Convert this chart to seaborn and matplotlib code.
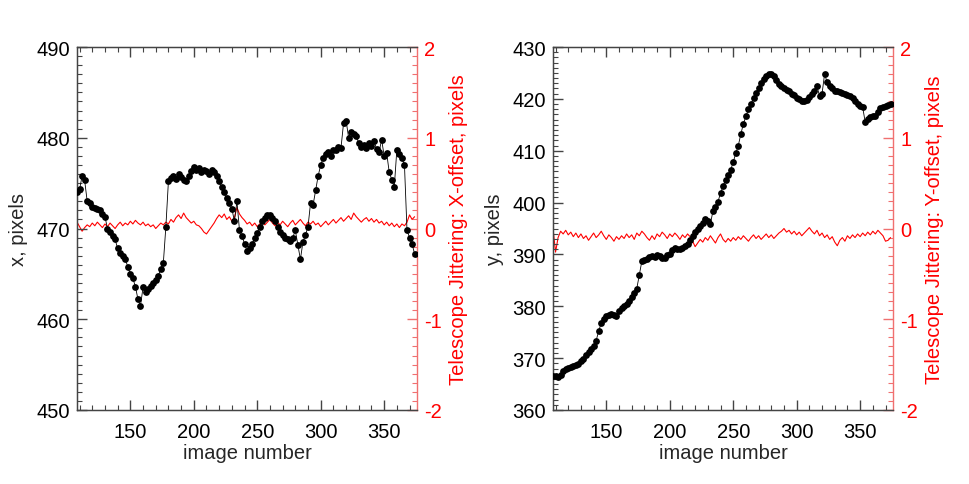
import numpy as np
import pandas as pd
import matplotlib
matplotlib.use('Agg')
import matplotlib.pyplot as plt
from matplotlib.ticker import MultipleLocator
import seaborn as sns

# image numbers (every 2nd image)
images = np.arange(108, 376, 2)

# x position of the target, pixels
x_pos = [474.0, 474.3, 475.8, 475.3, 473.0, 472.8, 472.4, 472.3, 472.1, 472.0,
         471.6, 471.3, 470.0, 469.6, 469.2, 468.8, 467.8, 467.3, 467.0, 466.6,
         465.8, 465.0, 464.5, 463.6, 462.2, 461.5, 463.5, 463.0, 463.3, 463.7,
         464.0, 464.3, 464.8, 465.5, 466.2, 470.2, 475.2, 475.6, 475.8, 475.5,
         476.0, 475.7, 475.4, 475.2, 475.8, 476.3, 476.8, 476.5, 476.7, 476.2,
         476.5, 476.3, 476.0, 476.4, 476.2, 475.8, 475.2, 474.6, 474.0, 473.4,
         472.8, 472.2, 470.8, 473.0, 469.8, 469.2, 468.3, 467.5, 467.8, 468.3,
         468.9, 469.5, 470.2, 470.8, 471.2, 471.5, 471.5, 471.2, 470.8, 470.2,
         469.6, 469.3, 469.0, 468.8, 468.6, 469.0, 469.8, 468.2, 466.6, 468.5,
         469.3, 470.2, 472.8, 472.6, 474.2, 475.8, 477.0, 477.8, 478.2, 478.4,
         478.0, 478.6, 478.7, 479.0, 478.9, 481.6, 481.9, 480.0, 480.6, 480.4,
         480.2, 479.4, 479.0, 479.2, 478.9, 479.4, 479.1, 479.6, 478.8, 478.4,
         479.8, 478.0, 478.3, 476.2, 475.4, 474.6, 478.7, 478.2, 477.8, 477.0,
         469.8, 469.0, 468.3, 467.2]

# y position of the target, pixels
y_pos = [366.6, 366.5, 366.4, 366.8, 367.5, 368.0, 368.1, 368.3, 368.4, 368.7,
         368.9, 369.4, 369.9, 370.6, 371.2, 371.7, 372.3, 373.4, 375.2, 376.8,
         377.6, 378.1, 378.3, 378.5, 378.3, 378.1, 379.0, 379.6, 380.0, 380.4,
         381.0, 381.8, 382.6, 383.4, 386.0, 388.7, 389.0, 389.2, 389.5, 389.7,
         389.6, 389.8, 389.7, 389.4, 389.3, 389.8, 390.1, 390.8, 391.2, 391.0,
         391.0, 391.3, 391.7, 392.0, 392.8, 393.6, 394.3, 394.9, 395.5, 396.1,
         396.8, 396.5, 395.9, 398.3, 399.2, 400.2, 401.8, 403.2, 404.3, 405.3,
         406.3, 407.8, 409.5, 411.0, 413.2, 415.2, 416.6, 418.0, 419.0, 420.1,
         421.1, 422.0, 423.0, 423.8, 424.5, 424.8, 424.8, 424.4, 423.6, 422.8,
         422.4, 422.1, 421.8, 421.6, 421.0, 420.7, 420.2, 419.9, 419.6, 419.5,
         419.8, 420.3, 420.9, 421.5, 422.4, 420.6, 421.0, 424.8, 423.2, 422.5,
         422.0, 421.6, 421.5, 421.3, 421.1, 421.0, 420.8, 420.5, 420.1, 419.6,
         419.0, 418.7, 418.4, 415.5, 416.2, 416.5, 416.6, 416.7, 417.4, 418.3,
         418.5, 418.6, 418.8, 419.0]

# telescope jitter, X offset (pixels)
jit_x = [0.07, 0.02, -0.03, 0.01, 0.04, 0.02, 0.06, 0.03, 0.07, 0.04,
         0.01, 0.05, 0.02, 0.06, 0.03, 0.0, 0.04, 0.07, 0.03, 0.06,
         0.04, 0.08, 0.05, 0.09, 0.06, 0.04, 0.07, 0.03, 0.05, 0.02,
         0.04, 0.0, 0.03, 0.06, 0.04, 0.07, 0.05, 0.1, 0.07, 0.12,
         0.15, 0.11, 0.17, 0.12, 0.09, 0.06, 0.08, 0.04, 0.03, 0.0,
         -0.04, -0.06, -0.02, 0.02, 0.06, 0.11, 0.15, 0.12, 0.16, 0.1,
         0.13, 0.08, 0.12, 0.23, 0.16, 0.12, 0.09, 0.05, 0.07, 0.03,
         0.06, 0.02, 0.05, 0.08, 0.04, 0.07, 0.1, 0.06, 0.03, 0.07,
         0.04, 0.08, 0.05, 0.02, 0.06, 0.09, 0.04, 0.07, 0.1, 0.06,
         0.03, 0.07, 0.05, 0.08, 0.04, 0.06, 0.02, 0.05, 0.08, 0.04,
         0.07, 0.1, 0.06, 0.09, 0.12, 0.08, 0.11, 0.14, 0.1, 0.17,
         0.13, 0.1, 0.07, 0.1, 0.12, 0.08, 0.11, 0.07, 0.1, 0.06,
         0.08, 0.04, 0.07, 0.03, 0.06, 0.02, 0.05, 0.01, 0.05, 0.03,
         0.07, 0.15, 0.1, 0.13]

# telescope jitter, Y offset (pixels)
jit_y = [0.0, -0.26, -0.1, -0.03, -0.06, -0.02, -0.07, -0.04, -0.09, -0.05,
         -0.1, -0.06, -0.11, -0.08, -0.13, -0.09, -0.05, -0.1, -0.07, -0.03,
         -0.08, -0.12, -0.07, -0.1, -0.14, -0.09, -0.12, -0.08, -0.11, -0.06,
         -0.1, -0.07, -0.12, -0.05, -0.08, -0.03, -0.06, -0.1, -0.13, -0.08,
         -0.12, -0.06, -0.09, -0.04, -0.07, -0.11, -0.06, -0.09, -0.05, -0.08,
         -0.12, -0.07, -0.1, -0.06, -0.09, -0.14, -0.2, -0.16, -0.12, -0.15,
         -0.1, -0.13, -0.08, -0.12, -0.16, -0.1, -0.06, -0.12, -0.15, -0.11,
         -0.14, -0.1, -0.13, -0.09, -0.12, -0.08, -0.11, -0.14, -0.1, -0.07,
         -0.11, -0.08, -0.12, -0.09, -0.06, -0.1, -0.07, -0.11, -0.08, -0.05,
         -0.03, 0.0, -0.04, -0.02, -0.06, -0.03, -0.07, -0.04, -0.08, -0.05,
         -0.02, 0.01, -0.03, -0.06, -0.02, -0.08, -0.05, -0.1, -0.07, -0.12,
         -0.09, -0.15, -0.19, -0.13, -0.1, -0.14, -0.08, -0.11, -0.07, -0.1,
         -0.06, -0.09, -0.05, -0.08, -0.04, -0.07, -0.03, -0.06, -0.02, -0.05,
         -0.08, -0.14, -0.13, -0.1]

df = pd.DataFrame({'image': images, 'x': x_pos, 'y': y_pos,
                   'jx': jit_x, 'jy': jit_y})

sns.set_style('ticks')
plt.rcParams['font.family'] = ['Liberation Sans', 'DejaVu Sans']
plt.rcParams['axes.unicode_minus'] = False
fs = 14.5

fig = plt.figure(figsize=(9.69, 4.85), dpi=100)
frame_col = '#444444'
red = '#ff0000'
light_red = '#f07070'

panels = [
    (0.0795, 'x', 'jx', (450, 490), 'x, pixels', 'Telescope Jittering: X-offset, pixels'),
    (0.5707, 'y', 'jy', (360, 430), 'y, pixels', 'Telescope Jittering: Y-offset, pixels'),
]

for left, col, jcol, ylim, ylab, rlab in panels:
    ax = fig.add_axes([left, 0.1526, 0.351, 0.7484])
    ax2 = ax.twinx()

    # jitter on right axis
    sns.lineplot(data=df, x='image', y=jcol, ax=ax2, color=red, lw=0.8)
    # position on left axis, dots joined by thin line
    sns.lineplot(data=df, x='image', y=col, ax=ax, color='black', lw=0.6)
    sns.scatterplot(data=df, x='image', y=col, ax=ax, color='black',
                    s=24, edgecolor='black', linewidth=0, zorder=3)

    ax.set_zorder(ax2.get_zorder() + 1)
    ax.patch.set_visible(False)

    ax.set_xlim(108, 376)
    ax.set_ylim(*ylim)
    ax2.set_ylim(-2, 2)

    ax.xaxis.set_major_locator(MultipleLocator(50))
    ax.xaxis.set_minor_locator(MultipleLocator(10))
    ax.yaxis.set_major_locator(MultipleLocator(10))
    ax.yaxis.set_minor_locator(MultipleLocator(1))
    ax2.yaxis.set_major_locator(MultipleLocator(1))
    ax2.yaxis.set_minor_locator(MultipleLocator(0.1))

    ax.tick_params(axis='both', which='both', direction='in', colors=frame_col,
                   labelsize=fs, labelcolor='black')
    ax.tick_params(axis='x', which='both', top=True, bottom=True, pad=9)
    ax.tick_params(axis='y', which='both', left=True, right=False, pad=5)
    ax.tick_params(which='major', length=7, width=1.0)
    ax.tick_params(which='minor', length=3.5, width=0.8)
    ax2.tick_params(axis='y', which='both', direction='in', colors=light_red,
                    labelcolor=red, labelsize=fs, pad=5, right=True)
    ax2.tick_params(which='major', length=7, width=1.0)
    ax2.tick_params(which='minor', length=3.5, width=0.8)

    for side in ['left', 'bottom', 'top']:
        ax.spines[side].set_color(frame_col)
        ax2.spines[side].set_color(frame_col)
        ax.spines[side].set_linewidth(1.0)
    ax.spines['right'].set_visible(False)
    ax2.spines['right'].set_color(light_red)
    ax2.spines['right'].set_linewidth(1.0)

    ax.set_xlabel('image number', fontsize=fs, labelpad=1)
    ax.set_ylabel(ylab, fontsize=fs, labelpad=6)
    ax2.set_ylabel(rlab, fontsize=fs, color=red, labelpad=5)

fig.savefig('out.png', dpi=100, facecolor='white')
